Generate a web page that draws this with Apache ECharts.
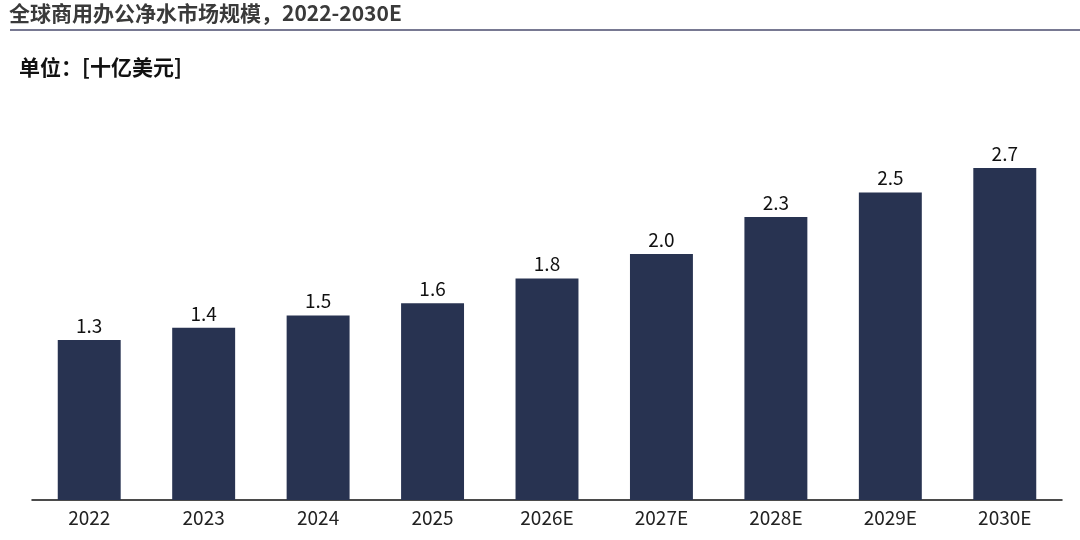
<!DOCTYPE html>
<html><head><meta charset="utf-8">
<script src="https://cdn.jsdelivr.net/npm/echarts@6/dist/echarts.min.js"></script>
<style>html,body{margin:0;padding:0;background:#fff}#c{width:1080px;height:540px}</style>
</head><body><div id="c"></div>
<script>
const categories = ['2022','2023','2024','2025','2026E','2027E','2028E','2029E','2030E'];
const values = [1.3,1.4,1.5,1.6,1.8,2.0,2.3,2.5,2.7];
const titleText = '全球商用办公净水市场规模，2022-2030E';
const unitText = '单位：[十亿美元]';
const FONT = '"Noto Sans CJK SC","Noto Sans",sans-serif';
const chart = echarts.init(document.getElementById('c'));
chart.setOption({
  animation:false,
  textStyle:{fontFamily:FONT},
  title:[
    {text:titleText,left:9,top:3,padding:0,textStyle:{fontFamily:FONT,fontSize:21,fontWeight:'bold',color:'#3a3a3a'}},
    {text:unitText,left:19,top:57,padding:0,textStyle:{fontFamily:FONT,fontSize:21,fontWeight:'bold',color:'#111'}}
  ],
  graphic:[{type:'line',shape:{x1:10,y1:30,x2:1080,y2:30},style:{stroke:'#4b4d6e',lineWidth:1.5}}],
  grid:{left:32,right:18,top:131,bottom:40},
  xAxis:{type:'category',data:categories,
    axisLine:{lineStyle:{color:'#111',width:1.5}},axisTick:{show:false},
    axisLabel:{fontFamily:FONT,fontSize:19,color:'#222',margin:8}},
  yAxis:{type:'value',min:0,max:3,show:false,splitLine:{show:false}},
  series:[{type:'bar',data:values,barWidth:'55%',itemStyle:{color:'#283351'},
    label:{show:true,position:'top',distance:5,fontFamily:FONT,fontSize:19,color:'#111',
      formatter:p=>p.value.toFixed(1)}}]
});
</script></body></html>
